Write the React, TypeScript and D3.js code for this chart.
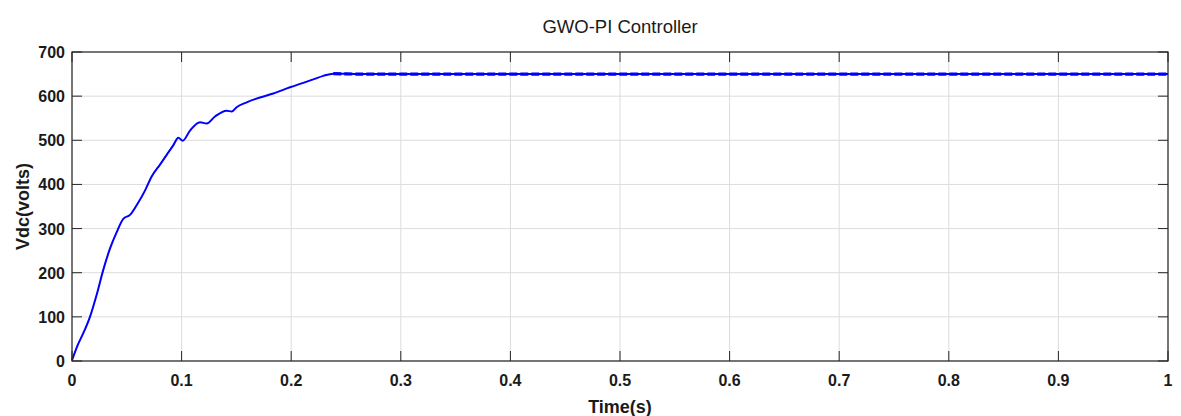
import React from 'react';
import * as d3 from 'd3';

// Vdc response of the GWO-PI controller
const timeS = [
  0, 0.0012, 0.005, 0.0103, 0.0164, 0.0225, 0.0286, 0.0347, 0.0408, 0.0468,
  0.0529, 0.059, 0.0666, 0.0727, 0.0803, 0.0864, 0.0925, 0.097, 0.101, 0.1077,
  0.1168, 0.1229, 0.1305, 0.1411, 0.1457, 0.1502, 0.1594, 0.1715, 0.1837,
  0.1989, 0.211, 0.2202, 0.2293, 0.2384, 0.263, 0.3, 0.4, 0.5, 0.6, 0.7, 0.8,
  0.9, 1.0,
];
const vdcVolts = [
  2, 10, 35, 63, 100, 150, 207, 255, 292, 322,
  331, 353, 386, 418, 445, 467, 489, 506, 499, 522,
  541, 538, 554, 567, 565, 575, 586, 597, 606,
  620, 630, 638, 646, 651, 650, 650, 650, 650, 650, 650, 650,
  650, 650,
];
const steadyFrom = 0.238;

const xTicks = [0, 0.1, 0.2, 0.3, 0.4, 0.5, 0.6, 0.7, 0.8, 0.9, 1];
const yTicks = [0, 100, 200, 300, 400, 500, 600, 700];

const W = 1181;
const H = 416;
const margin = { top: 52, right: 13, bottom: 55, left: 72 };

export default function App() {
  const x = d3.scaleLinear().domain([0, 1]).range([margin.left, W - margin.right]);
  const y = d3.scaleLinear().domain([0, 700]).range([H - margin.bottom, margin.top]);

  const pts = timeS.map((t, i) => ({ t, v: vdcVolts[i] }));
  const line = d3.line<{ t: number; v: number }>()
    .x(d => x(d.t))
    .y(d => y(d.v))
    .curve(d3.curveMonotoneX);
  const steady = pts.filter(d => d.t >= steadyFrom);

  const x0 = x(0), x1 = x(1), y0 = y(0), y1 = y(700);
  const axisCol = '#262626';
  const tickLen = 10;

  return (
    <svg width={W} height={H} style={{ position: 'absolute', left: 0, top: 0, background: '#fff' }}
      fontFamily="'Liberation Sans', Arial, sans-serif">
      <rect x={0} y={0} width={W} height={H} fill="#fff" />
      {/* grid */}
      {xTicks.map(t => (
        <line key={'gx' + t} x1={x(t)} x2={x(t)} y1={y0} y2={y1} stroke="#dcdcdc" strokeWidth={1} />
      ))}
      {yTicks.map(v => (
        <line key={'gy' + v} x1={x0} x2={x1} y1={y(v)} y2={y(v)} stroke="#dcdcdc" strokeWidth={1} />
      ))}

      {/* curve */}
      <path d={line(pts) || ''} fill="none" stroke="#0000ff" strokeWidth={2} strokeLinejoin="round" />
      <path d={line(steady) || ''} fill="none" stroke="#0000ff" strokeWidth={3.2} strokeDasharray="8,3" />

      {/* box */}
      <rect x={x0} y={y1} width={x1 - x0} height={y0 - y1} fill="none" stroke={axisCol} strokeWidth={1.2} />
      {xTicks.map(t => (
        <g key={'tx' + t}>
          <line x1={x(t)} x2={x(t)} y1={y0} y2={y0 - tickLen} stroke={axisCol} />
          <line x1={x(t)} x2={x(t)} y1={y1} y2={y1 + tickLen} stroke={axisCol} />
          <text x={x(t)} y={386} textAnchor="middle" fontSize={16} fontWeight="bold" fill="#1a1a1a">
            {String(t)}
          </text>
        </g>
      ))}
      {yTicks.map(v => (
        <g key={'ty' + v}>
          <line x1={x0} x2={x0 + tickLen} y1={y(v)} y2={y(v)} stroke={axisCol} />
          <line x1={x1} x2={x1 - tickLen} y1={y(v)} y2={y(v)} stroke={axisCol} />
          <text x={x0 - 7} y={y(v) + 6} textAnchor="end" fontSize={16} fontWeight="bold" fill="#1a1a1a">
            {v}
          </text>
        </g>
      ))}

      {/* labels */}
      <text x={(x0 + x1) / 2} y={33} textAnchor="middle" fontSize={18.5} fill="#1a1a1a">
        GWO-PI Controller
      </text>
      <text x={(x0 + x1) / 2} y={413} textAnchor="middle" fontSize={18} fontWeight="bold" fill="#1a1a1a">
        Time(s)
      </text>
      <text transform={`translate(29,${(y0 + y1) / 2}) rotate(-90)`} textAnchor="middle" fontSize={18}
        fontWeight="bold" fill="#1a1a1a">
        Vdc(volts)
      </text>
    </svg>
  );
}
